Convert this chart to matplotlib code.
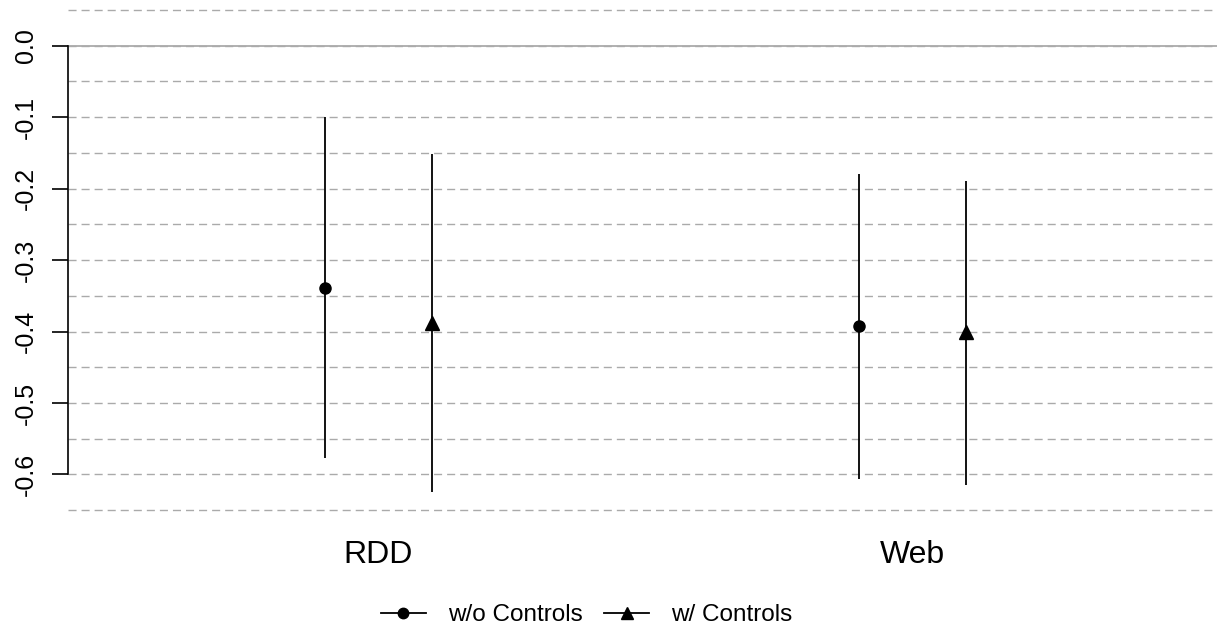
import matplotlib
matplotlib.use("Agg")
import matplotlib.pyplot as plt
from matplotlib.lines import Line2D
import numpy as np

plt.rcParams['font.family'] = ['Liberation Sans', 'DejaVu Sans']

groups = ["RDD", "Web"]
series = ["w/o Controls", "w/ Controls"]
markers = ["o", "^"]
est = [[-0.339, -0.392], [-0.388, -0.400]]
lo = [[-0.577, -0.606], [-0.625, -0.614]]
hi = [[-0.100, -0.180], [-0.152, -0.190]]
yticks = [0.0, -0.1, -0.2, -0.3, -0.4, -0.5, -0.6]
grid_y = np.round(np.arange(0.05, -0.66, -0.05), 2)

fig = plt.figure(figsize=(12.17, 6.26), dpi=100)
ax = fig.add_axes([68 / 1217, 0.1735, 1 - 68 / 1217, 0.8223])
ax.set_xlim(0.42, 2.569)
ax.set_ylim(-0.66, 0.06)

for g in grid_y:
    ax.axhline(g, color="#aaaaaa", lw=1.0, ls=(0, (5.8, 3.6)), zorder=1)
ax.axhline(0, color="#aaaaaa", lw=1.3, zorder=1)

xpos = np.arange(1, len(groups) + 1)
offs = [-0.1, 0.1]
for i, s in enumerate(series):
    xs = xpos + offs[i]
    ax.vlines(xs, lo[i], hi[i], color="black", lw=1.3, zorder=2)
    ms = 8 if markers[i] == "o" else 10
    ax.plot(xs, est[i], ls="none", marker=markers[i], color="black", ms=ms, zorder=3)

for sp in ["top", "right", "bottom"]:
    ax.spines[sp].set_visible(False)
ax.spines["left"].set_bounds(-0.6, 0.0)
ax.spines["left"].set_linewidth(1.2)
ax.set_yticks(yticks)
ax.set_yticklabels(["%.1f" % v for v in yticks], rotation=90, va="center", fontsize=18)
ax.tick_params(axis="y", length=11.5, width=1.2, pad=10)
ax.set_xticks(xpos)
ax.set_xticklabels(groups, fontsize=23)
ax.tick_params(axis="x", length=0, pad=16)

handles = [Line2D([0], [0], color="black", lw=1.3, marker=m, ms=(7.5 if m == "o" else 9))
           for m in markers]
fig.legend(handles, series, loc="center", bbox_to_anchor=(0.482, 0.017), ncol=2,
           frameon=False, fontsize=17.5, handlelength=1.85, handletextpad=0.9,
           columnspacing=0.9)

fig.savefig("out.png", dpi=100)
